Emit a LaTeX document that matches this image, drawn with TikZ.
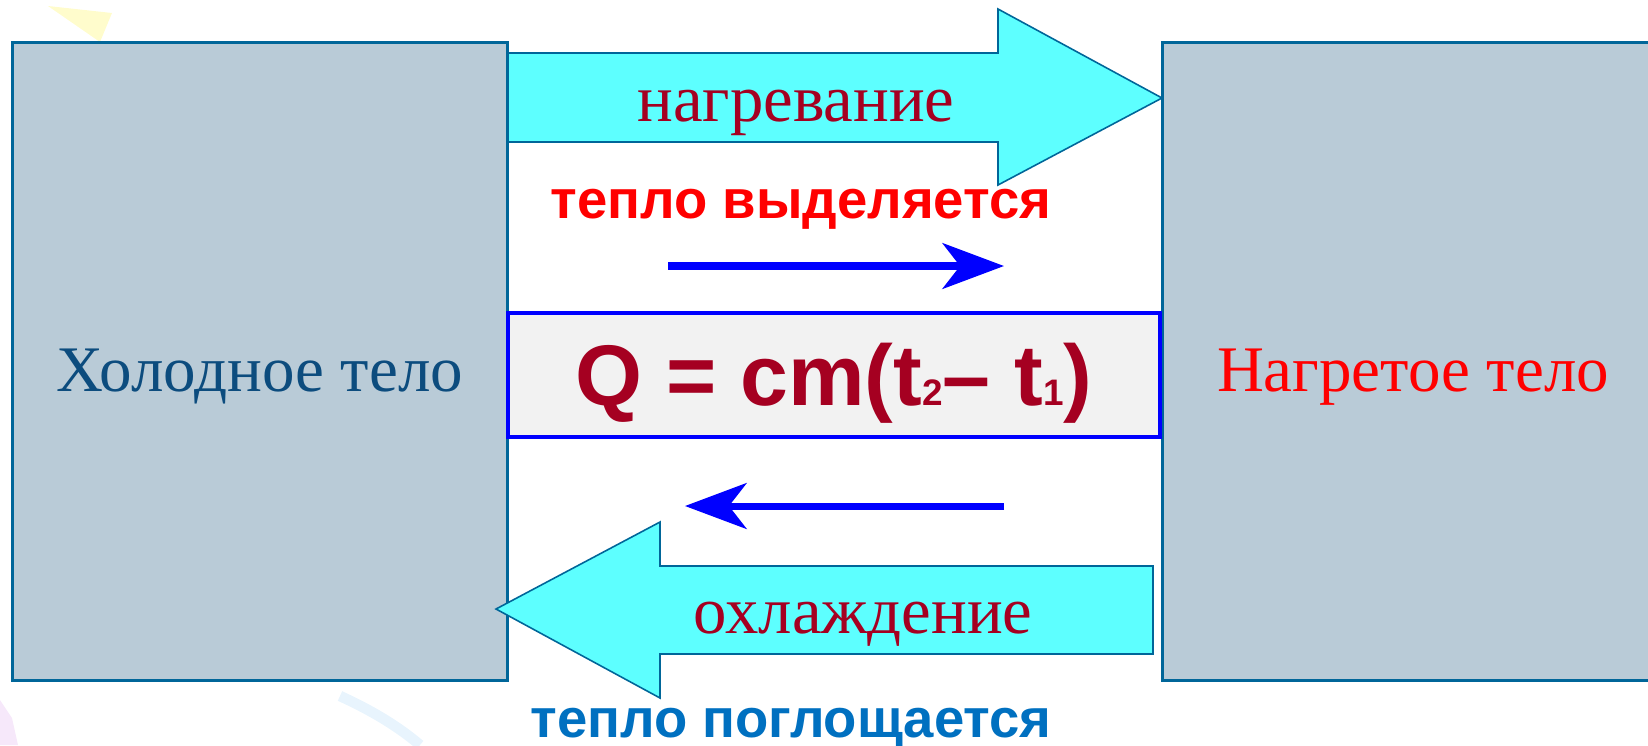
\documentclass[tikz,border=0pt]{standalone}
\usepackage{fontspec}
\setmainfont{Liberation Serif}
\setsansfont{Liberation Sans}
\usepackage{tikz}
\usetikzlibrary{arrows.meta,positioning,calc}

\definecolor{bodyfill}{RGB}{185,203,215}
\definecolor{bodyline}{RGB}{0,102,153}
\definecolor{flowfill}{RGB}{93,255,255}
\definecolor{wine}{RGB}{165,0,33}
\definecolor{coldtxt}{RGB}{12,76,126}
\definecolor{absorbtxt}{RGB}{0,112,192}
\definecolor{formfill}{RGB}{242,242,242}
\definecolor{arcpale}{RGB}{232,244,253}
\definecolor{pinkpale}{RGB}{246,232,250}

\begin{document}
\begin{tikzpicture}[x=0.02cm, y=-0.02cm,
    % ---------- estilos ----------
    body/.style={draw=bodyline, line width=1.7pt, fill=bodyfill,
      minimum height=12.78cm, inner sep=0pt},
    bodytxt/.style={font=\fontsize{37}{40}\selectfont, anchor=base},
    flow/.style={draw=bodyline, line width=0.9pt, fill=flowfill, line join=miter},
    flowtxt/.style={font=\fontsize{38}{40}\selectfont, text=wine, anchor=base},
    note/.style={font=\sffamily\bfseries\fontsize{31}{33}\selectfont, anchor=base},
    dir/.style={-{Stealth[length=35pt, width=26pt, inset=10pt]}, line width=4pt, color=blue},
    fbox/.style={draw=blue, line width=2.4pt, fill=formfill,
      minimum width=13.04cm, minimum height=2.48cm, inner sep=0pt,
      text=wine, font=\sffamily\bfseries\fontsize{49}{50}\selectfont,
      text height=35pt, text depth=0pt}
]
\useasboundingbox (0,0) rectangle (1648,745);

\def\subs#1{{\fontsize{21}{21}\selectfont #1}}

% ====== Fondo ======
\fill[yellow!20] (48,6) -- (112,13) -- (100,42) -- cycle;
\draw[arcpale, line width=6pt] (340,696) .. controls (375,712) and (400,728) .. (420,745);
\fill[pinkpale] (0,700) -- (12,718) -- (18,745) -- (0,745) -- cycle;

% ====== Cuerpos ======
\node[body, minimum width=9.92cm] (cold) at (260,361.5) {};
\node[body, minimum width=9.96cm] (hot) at (1411,361.5) {};
\node[bodytxt, text=coldtxt] (coldlbl) at (260,391) {Холодное тело};
\node[bodytxt, text=red] (hotlbl) at (1413,391) {Нагретое тело};

% ====== Flechas anchas ======
\draw[flow] (508,53) -- (998,53) -- (998,9) -- (1162,98)
  -- (998,185) -- (998,142) -- (508,142) -- cycle;
\draw[flow] (1153,566) -- (660,566) -- (660,522) -- (496,609)
  -- (660,698) -- (660,654) -- (1153,654) -- cycle;
\node[flowtxt] (heatlbl) at (796,121) {нагревание};
\node[flowtxt] (coollbl) at (863,633) {охлаждение};

% ====== Calor ======
\node[note, text=red] (emit) at (801,218) {тепло выделяется};
\node[note, text=absorbtxt] (absorb) at (791,737) {тепло поглощается};

\coordinate (r0) at (668,266);
\coordinate (r1) at (1004,266);
\coordinate (l0) at (1004,506);
\coordinate (l1) at (685,506);
\draw[dir] (r0) -- (r1);
\draw[dir] (l0) -- (l1);

% ====== Formula ======
\node[fbox] (formula) at (834,375) {Q = cm(t\subs{2}– t\subs{1})};

\end{tikzpicture}
\end{document}
